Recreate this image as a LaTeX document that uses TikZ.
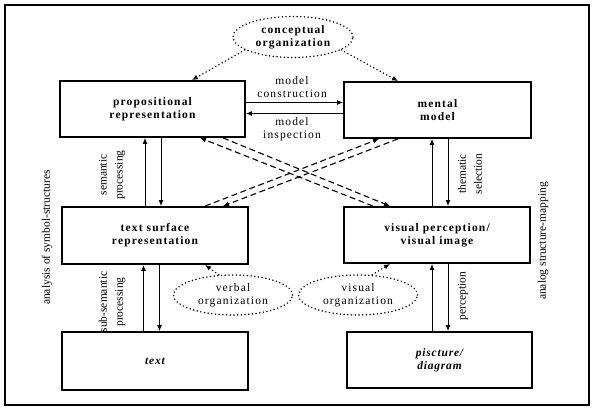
\documentclass[tikz,border=0pt]{standalone}
\usepackage{fontspec}
\setmainfont{Liberation Serif}
\usetikzlibrary{arrows.meta,calc,shapes.geometric}
\newcommand\myboxfont{\fontsize{11.5}{13}\selectfont\bfseries\addfontfeature{LetterSpace=10}}
\newcommand\myitfont{\fontsize{11.5}{13}\selectfont\bfseries\itshape\addfontfeature{LetterSpace=7}}
\newcommand\mylabfont{\fontsize{11.5}{12.5}\selectfont\addfontfeature{LetterSpace=10}}
\newcommand\myrotfont{\fontsize{11.5}{16}\selectfont}
\tikzset{
  box/.style={draw, line width=1.8pt, inner sep=0pt, align=center, font=\myboxfont},
  oval/.style={ellipse, draw, line width=1.6pt, line cap=round, dash pattern=on 0.1pt off 3.6pt, inner sep=0pt, align=center, font=\mylabfont},
  arr/.style={line width=1pt, -{Latex[length=6pt,width=5pt]}},
  dasharr/.style={line width=1.1pt, dash pattern=on 6pt off 3.5pt, -{Latex[length=6pt,width=5pt]}},
  dotarr/.style={line width=1.6pt, line cap=round, dash pattern=on 0.1pt off 3.6pt, -{Latex[length=6pt,width=5pt]}},
  lab/.style={align=center, inner sep=0pt, font=\mylabfont},
  rotlab/.style={align=center, inner sep=0pt, rotate=90, font=\myrotfont},
}
\begin{document}
\begin{tikzpicture}[x=1pt,y=-1pt]
\useasboundingbox (0,0) rectangle (596,414);
\draw[line width=2.5pt] (5,5) rectangle (589,405);

% boxes
\node[box, minimum width=185pt, minimum height=56pt] (prop) at (152.5,109) {propositional\\representation};
\node[box, minimum width=187pt, minimum height=56pt] (mental) at (437.5,110) {mental\\model};
\node[box, minimum width=186pt, minimum height=57pt] (surf) at (155,235.5) {text surface\\representation};
\node[box, minimum width=186pt, minimum height=56pt] (vis) at (437,235) {visual perception/\\visual image};
\node[box, minimum width=186pt, minimum height=58pt, font=\myitfont] (txt) at (155,361) {text};
\node[box, minimum width=185pt, minimum height=56pt, font=\myitfont] (pic) at (439.5,360) {piscture/\\diagram};

% ellipses
\node[oval, minimum width=120pt, minimum height=41pt, font=\myboxfont] (concept) at (293,37) {conceptual\\organization};
\node[oval, minimum width=119pt, minimum height=40pt] (verbal) at (233,295) {verbal\\organization};
\node[oval, minimum width=119pt, minimum height=40pt] (visual) at (358,295) {visual\\organization};

% helper x positions
\coordinate (xa) at (145,0);
\coordinate (xb) at (161,0);
\coordinate (xc) at (143.5,0);
\coordinate (xd) at (159.5,0);
\coordinate (xe) at (432,0);
\coordinate (xf) at (448,0);
\coordinate (d1) at (200,0);
\coordinate (d2) at (223,0);
\coordinate (d3) at (373,0);
\coordinate (d4) at (390,0);
\coordinate (d5) at (205,0);
\coordinate (d6) at (223,0);
\coordinate (d7) at (379,0);
\coordinate (d8) at (398,0);
\coordinate (c1) at (192,0);
\coordinate (c2) at (398,0);
\coordinate (v1) at (205,0);
\coordinate (v2) at (390,0);

% horizontal arrows
\coordinate (mc) at ([yshift=6.5pt]prop.east);
\coordinate (mi) at ([yshift=-4.5pt]prop.east);
\draw[arr] (mc) -- (mc -| mental.west);
\draw[arr] (mi -| mental.west) -- (mi);
\node[lab] (lmc) at (292,87) {model\\construction};
\node[lab] (lmi) at (292,129) {model\\inspection};

% vertical arrows
\draw[arr] (surf.north -| xa) -- (prop.south -| xa);
\draw[arr] (prop.south -| xb) -- (surf.north -| xb);
\draw[arr] (txt.north -| xc) -- (surf.south -| xc);
\draw[arr] (surf.south -| xd) -- (txt.north -| xd);
\draw[arr] (vis.north -| xe) -- (mental.south -| xe);
\draw[arr] (mental.south -| xf) -- (vis.north -| xf);
\draw[arr] (pic.north -| xe) -- (vis.south -| xe);
\draw[arr] (vis.south -| xf) -- (pic.north -| xf);

% dashed crossing
\draw[dasharr] (prop.south -| d2) -- (vis.north -| d4);
\draw[dasharr] (vis.north -| d3) -- (prop.south -| d1);
\draw[dasharr] (surf.north -| d5) -- (mental.south -| d7);
\draw[dasharr] (mental.south -| d8) -- (surf.north -| d6);

% dotted
\draw[dotarr] (concept.195) -- (prop.north -| c1);
\draw[dotarr] (concept.345) -- (mental.north -| c2);
\draw[dotarr] (verbal.125) -- (surf.south -| v1);
\draw[dotarr] (visual.55) -- (vis.south -| v2);

% rotated labels
\node[rotlab] (lsem) at (112,175) {semantic\\processing};
\node[rotlab] (lthe) at (470,174) {thematic\\selection};
\node[rotlab] (lsub) at (112,302) {sub-semantic\\processing};
\node[rotlab] (lper) at (463,296) {perception};
\node[rotlab] (lana) at (47,237.5) {analysis of symbol-structures};
\node[rotlab] (lanl) at (543,241) {analog structure-mapping};
\end{tikzpicture}
\end{document}
